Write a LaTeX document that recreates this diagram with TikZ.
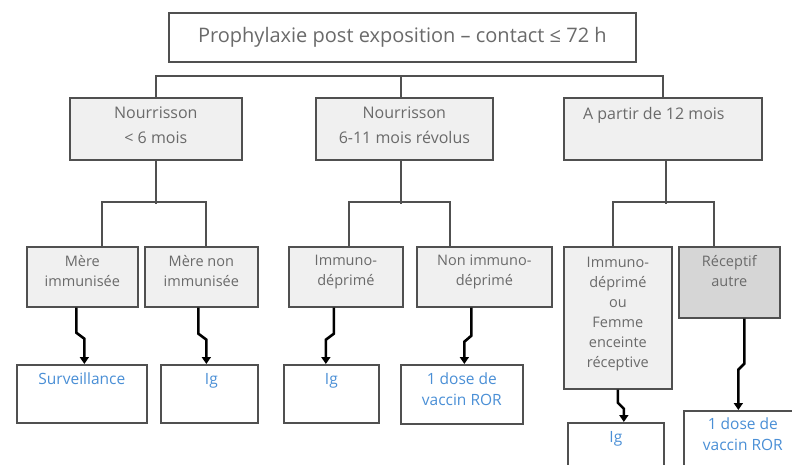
\documentclass[tikz,border=0pt]{standalone}
\usepackage{fontspec}
\setmainfont{Open Sans}
\usetikzlibrary{arrows.meta}
\definecolor{bordc}{HTML}{505050}
\definecolor{txtc}{HTML}{6A6A6A}
\definecolor{lightf}{HTML}{F0F0F0}
\definecolor{darkf}{HTML}{D6D6D6}
\definecolor{bluet}{HTML}{4A8FD6}
\tikzset{
  x=1pt, y=-1pt,
  box/.style={draw=bordc, line width=1.7pt, anchor=north west, inner sep=0pt},
  graybox/.style={box, fill=lightf},
  darkbox/.style={box, fill=darkf},
  resbox/.style={box, fill=white},
  tline/.style={draw=bordc, line width=1.8pt},
  arr/.style={draw=black, line width=2.6pt, -{Triangle[width=9pt,length=7pt]}},
  toptxt/.style={inner sep=0pt, text=txtc, font=\fontsize{20}{24}\selectfont},
  lone/.style={inner sep=0pt, anchor=north, align=center, text=txtc, font=\fontsize{16}{25}\selectfont},
  ltwo/.style={inner sep=0pt, anchor=north, align=center, text=txtc, font=\fontsize{14.5}{20}\selectfont},
  lres/.style={inner sep=0pt, anchor=north, align=center, text=bluet, font=\fontsize{15.5}{21}\selectfont},
}
\begin{document}
\begin{tikzpicture}
\useasboundingbox (0,0) rectangle (792,465);
\clip (0,0) rectangle (792,465);
\fill[white] (0,0) rectangle (792,465);
% top
\node[resbox, minimum width=467pt, minimum height=49pt] (top) at (168,12) {};
\node[toptxt] (toptext) at (top.center) {Prophylaxie post exposition – contact ≤ 72 h};
% level 1
\node[graybox, minimum width=172pt, minimum height=62pt] (n1) at (69,97) {};
\node[graybox, minimum width=177pt, minimum height=62pt] (n2) at (315,97) {};
\node[graybox, minimum width=198pt, minimum height=62pt] (n3) at (563,97) {};
\node[lone] (t1) at ([yshift=-10pt]n1.north) {Nourrisson\\< 6 mois};
\node[lone] (t2) at ([yshift=-10pt]n2.north) {Nourrisson\\6-11 mois révolus};
\node[lone] (t3) at ([xshift=-9pt,yshift=-10pt]n3.north) {A partir de 12 mois};
% level 2
\node[graybox, minimum width=111pt, minimum height=60pt] (a) at (26,246) {};
\node[graybox, minimum width=113pt, minimum height=60pt] (b) at (144,246) {};
\node[graybox, minimum width=114pt, minimum height=60pt] (c) at (288,246) {};
\node[graybox, minimum width=135pt, minimum height=60pt] (d) at (416,246) {};
\node[graybox, minimum width=108pt, minimum height=142pt] (e) at (563,246) {};
\node[darkbox, minimum width=101pt, minimum height=71pt] (f) at (678,246) {};
\node[ltwo] (ta) at ([yshift=-9pt]a.north) {Mère\\immunisée};
\node[ltwo] (tb) at ([yshift=-9pt]b.north) {Mère non\\immunisée};
\node[ltwo] (tc) at ([yshift=-9pt]c.north) {Immuno-\\déprimé};
\node[ltwo] (td) at ([yshift=-9pt]d.north) {Non immuno-\\déprimé};
\node[ltwo] (te) at ([yshift=-11pt]e.north) {Immuno-\\déprimé\\ou\\Femme\\enceinte\\réceptive};
\node[ltwo] (tf) at ([yshift=-9pt]f.north) {Réceptif\\autre};
% results
\node[resbox, minimum width=130pt, minimum height=58pt] (s1) at (16,364) {};
\node[resbox, minimum width=97pt, minimum height=58pt] (s2) at (160,364) {};
\node[resbox, minimum width=95pt, minimum height=58pt] (s3) at (283,364) {};
\node[resbox, minimum width=122pt, minimum height=59pt] (s4) at (400,364) {};
\node[resbox, minimum width=96pt, minimum height=70pt] (s5) at (567,422) {};
\node[resbox, minimum width=130pt, minimum height=70pt] (s6) at (683,410) {};
\node[lres] (r1) at ([yshift=-9pt]s1.north) {Surveillance};
\node[lres] (r2) at ([xshift=2pt,yshift=-9pt]s2.north) {Ig};
\node[lres] (r3) at ([yshift=-9pt]s3.north) {Ig};
\node[lres] (r4) at ([yshift=-9pt]s4.north) {1 dose de\\vaccin ROR};
\node[lres] (r5) at ([yshift=-9pt]s5.north) {Ig};
\node[lres] (r6) at ([xshift=-6pt,yshift=-8pt]s6.north) {1 dose de\\vaccin ROR};
% tree lines
\draw[tline] (n1.north) -- ++(0,-21) -| (n3.north);
\draw[tline] ([xshift=-3pt]n2.north) -- ++(0,-21);
\draw[tline] (n1.south) -- ++(0,43);
\draw[tline] ([xshift=20pt]a.north) -- ++(0,-44) -| ([xshift=5pt]b.north);
\draw[tline] ([xshift=-3pt]n2.south) -- ++(0,43);
\draw[tline] ([xshift=3pt]c.north) -- ++(0,-44) -| ([xshift=-34pt]d.north);
\draw[tline] ([xshift=3pt]n3.south) -- ++(0,43);
\draw[tline] ([xshift=-5pt]e.north) -- ++(0,-44) -| ([xshift=-15pt]f.north);
% arrows
\draw[arr] ([xshift=-6pt]a.south) -- ++(0,25) -- ++(8,6) coordinate (j1) -- (j1 |- s1.north);
\draw[arr] ([xshift=-3pt]b.south) -- ++(0,26) -- ++(8,6) coordinate (j2) -- (j2 |- s2.north);
\draw[arr] ([xshift=-12pt]c.south) -- ++(0,26) -- ++(-8,6) coordinate (j3) -- (j3 |- s3.north);
\draw[arr] ([xshift=-13pt]d.south) -- ++(0,28) -- ++(-7,6) coordinate (j4) -- (j4 |- s4.north);
\draw[arr] (e.south) -- ++(0,13) -- ++(6,6) coordinate (j5) -- (j5 |- s5.north);
\draw[arr] ([xshift=15pt]f.south) -- ++(0,45) -- ++(-6,6) coordinate (j6) -- (j6 |- s6.north);
\end{tikzpicture}
\end{document}
